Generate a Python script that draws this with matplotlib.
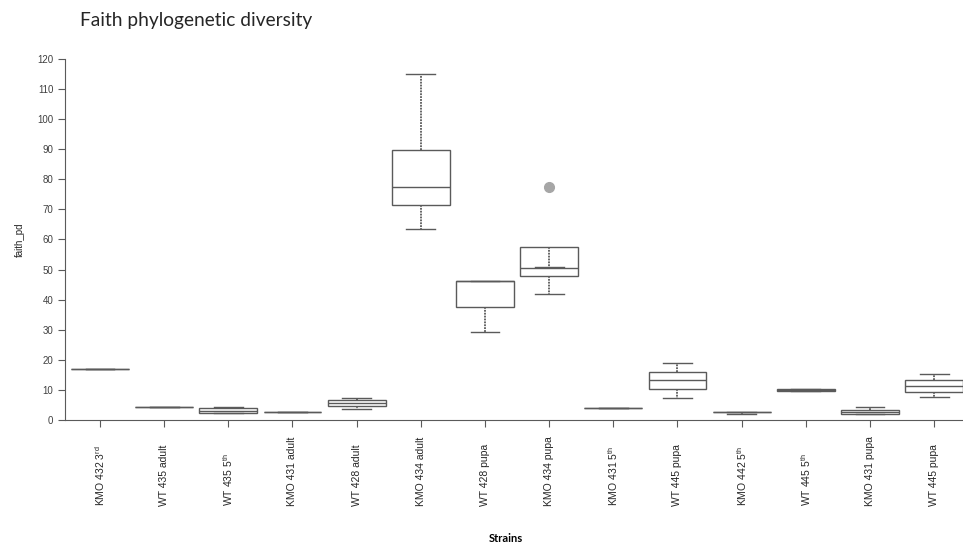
import matplotlib.pyplot as plt

# strains (x categories)
strains = ['KMO 432 3$^{\\mathregular{rd}}$', 'WT 435 adult', 'WT 435 5$^{\\mathregular{th}}$',
           'KMO 431 adult', 'WT 428 adult', 'KMO 434 adult', 'WT 428 pupa',
           'KMO 434 pupa', 'KMO 431 5$^{\\mathregular{th}}$', 'WT 445 pupa',
           'KMO 442 5$^{\\mathregular{th}}$', 'WT 445 5$^{\\mathregular{th}}$',
           'KMO 431 pupa', 'WT 445 pupa']

# box statistics of faith_pd
whislo = [16.8, 4.3, 2.2, 2.6, 3.6, 63.6, 29.4, 41.8, 4.0, 7.3, 2.1, 9.5, 2.0, 7.5]
q1     = [16.8, 4.3, 2.2, 2.6, 4.6, 71.4, 37.7, 47.9, 4.0, 10.2, 2.6, 9.6, 2.0, 9.3]
med    = [16.8, 4.3, 3.0, 2.6, 5.5, 77.6, 46.1, 50.4, 4.0, 13.2, 2.6, 9.9, 2.5, 11.3]
q3     = [16.8, 4.3, 3.9, 2.6, 6.5, 89.8, 46.1, 57.4, 4.0, 16.1, 2.6, 10.2, 3.3, 13.3]
whishi = [16.8, 4.3, 4.2, 2.6, 7.2, 115.1, 46.1, 50.8, 4.0, 19.0, 2.6, 10.3, 4.4, 15.3]
outliers = [[], [], [], [], [], [], [], [77.6], [], [], [], [], [], []]

stats = []
for i in range(len(strains)):
    stats.append(dict(whislo=whislo[i], q1=q1[i], med=med[i], q3=q3[i],
                      whishi=whishi[i], fliers=outliers[i]))

grey = '#5a5a5a'
fig = plt.figure(figsize=(9.63, 5.48), dpi=100)
ax = fig.add_axes([0.0675, 0.2336, 0.9325, 0.6588])

ax.bxp(stats, positions=range(len(strains)), widths=0.9, showfliers=True,
       patch_artist=True,
       boxprops=dict(facecolor='white', edgecolor=grey, linewidth=1.0),
       medianprops=dict(color=grey, linewidth=1.0),
       whiskerprops=dict(color=grey, linewidth=1.3, linestyle=(0, (1, 0.6))),
       capprops=dict(color=grey, linewidth=1.0),
       capwidths=0.45,
       flierprops=dict(marker='o', markersize=7, markerfacecolor='#a6a6a6',
                       markeredgecolor='#a6a6a6'))

ax.set_xlim(-0.545, 13.45)
ax.set_ylim(0, 120)
ax.set_yticks(range(0, 121, 10))
ax.set_xticks(range(len(strains)))
ax.set_xticklabels(strains, rotation=90, va='bottom', fontsize=7.5,
                   family='Liberation Sans', color='#262626')
ax.tick_params(axis='x', length=5, pad=57, color=grey)
ax.tick_params(axis='y', length=5, labelsize=7, labelcolor='#404040', color=grey)
for lab in ax.get_yticklabels():
    lab.set_family('Liberation Sans')

for s in ['top', 'right']:
    ax.spines[s].set_visible(False)
for s in ['left', 'bottom']:
    ax.spines[s].set_color(grey)

ax.set_ylabel('faith_pd', fontsize=7, family='Liberation Sans', color='#262626', labelpad=9)
fig.text(0.525, 0.008, 'Strains', fontsize=8, fontweight='bold', family='Lato',
         ha='center', va='bottom')
fig.text(0.083, 0.962, 'Faith phylogenetic diversity', fontsize=13.8, family='Lato',
         ha='left', va='center', color='#262626')

fig.savefig('out.png', dpi=100)
